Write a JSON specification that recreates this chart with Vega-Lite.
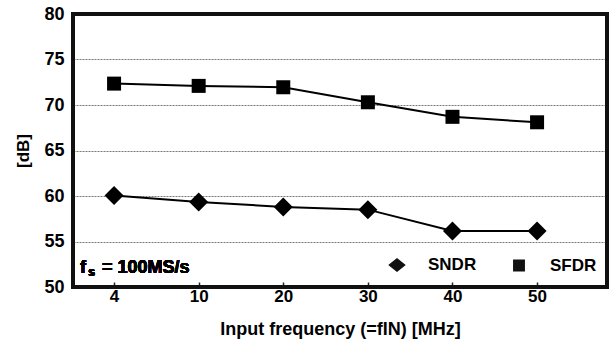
{
  "$schema": "https://vega.github.io/schema/vega-lite/v6.json",
  "autosize": "none",
  "width": 534,
  "height": 273,
  "padding": {"left": 73, "top": 14, "right": 6, "bottom": 61},
  "background": "white",
  "view": {"stroke": "#111111", "strokeWidth": 4},
  "data": {"values": [
    {"freq": "4", "series": "SNDR", "dB": 60.05},
    {"freq": "10", "series": "SNDR", "dB": 59.35},
    {"freq": "20", "series": "SNDR", "dB": 58.8},
    {"freq": "30", "series": "SNDR", "dB": 58.5},
    {"freq": "40", "series": "SNDR", "dB": 56.15},
    {"freq": "50", "series": "SNDR", "dB": 56.15},
    {"freq": "4", "series": "SFDR", "dB": 72.35},
    {"freq": "10", "series": "SFDR", "dB": 72.1},
    {"freq": "20", "series": "SFDR", "dB": 71.95},
    {"freq": "30", "series": "SFDR", "dB": 70.3},
    {"freq": "40", "series": "SFDR", "dB": 68.7},
    {"freq": "50", "series": "SFDR", "dB": 68.1}
  ]},
  "encoding": {
    "x": {"field": "freq", "type": "ordinal", "sort": ["4", "10", "20", "30", "40", "50"],
      "scale": {"type": "point", "padding": 0.656, "align": 0.37},
      "axis": {"title": "Input frequency (=fIN) [MHz]", "labelAngle": 0, "labelFont": "Liberation Sans", "titleFont": "Liberation Sans", "labelFontWeight": "bold", "titleFontWeight": "bold", "labelColor": "black", "titleColor": "black", "labelFontSize": 17, "titleFontSize": 18, "domain": false, "ticks": true, "tickSize": -5, "tickColor": "#222222", "tickWidth": 1.5, "labelPadding": 6, "titlePadding": 16, "grid": false}},
    "y": {"field": "dB", "type": "quantitative",
      "scale": {"domain": [50, 80], "nice": false, "zero": false},
      "axis": {"title": "[dB]", "values": [50, 55, 60, 65, 70, 75, 80], "labelFont": "Liberation Sans", "titleFont": "Liberation Sans", "labelFontWeight": "bold", "titleFontWeight": "bold", "labelColor": "black", "titleColor": "black", "labelFontSize": 18, "titleFontSize": 17, "domain": false, "ticks": false, "labelPadding": 9, "titlePadding": 11, "grid": true, "gridColor": "#777777", "gridDash": [2, 1], "gridWidth": 1}}
  },
  "layer": [
    {"mark": {"type": "rect", "fill": "transparent", "stroke": "#111111", "strokeWidth": 4},
      "encoding": {"x": null, "y": {"datum": 50}, "y2": {"datum": 80}}},
    {"mark": {"type": "line", "color": "black", "strokeWidth": 2}, "encoding": {"detail": {"field": "series"}}},
    {"transform": [{"filter": "datum.series === 'SNDR'"}],
      "mark": {"type": "point", "filled": true, "opacity": 1, "color": "black", "size": 361, "shape": "diamond"}},
    {"transform": [{"filter": "datum.series === 'SFDR'"}],
      "mark": {"type": "point", "filled": true, "opacity": 1, "color": "black", "size": 196, "shape": "square"}},
    {"transform": [{"filter": "false"}],
      "mark": {"type": "point", "filled": true, "opacity": 1, "color": "#111111", "size": 1225},
      "encoding": {
        "shape": {"field": "series", "type": "nominal",
          "scale": {"domain": ["SNDR", "SFDR"], "range": ["M-1,0H1M-0.5,0L0,-0.4L0.5,0L0,0.4Z", "M-1,0H1M-0.34,-0.34H0.34V0.34H-0.34Z"]},
          "legend": {"title": null, "orient": "none", "legendX": 305, "legendY": 232, "direction": "horizontal", "columns": 2, "padding": 0,
            "symbolSize": 1225, "symbolFillColor": "#111111", "symbolStrokeColor": "#111111", "symbolStrokeWidth": 3, "symbolOpacity": 1,
            "labelFontSize": 17, "labelFont": "Liberation Sans", "labelFontWeight": "bold", "labelColor": "black", "labelOffset": 12, "columnPadding": 18,
            "encode": {"symbols": {"update": {"stroke": {"value": "#111111"}, "strokeWidth": {"value": 3}, "fill": {"value": "#111111"}, "opacity": {"value": 1}}}}}}}},
    {"mark": {"type": "text", "text": "f", "align": "left", "baseline": "alphabetic", "fontSize": 18, "fontWeight": "bold", "font": "Liberation Sans", "color": "black", "dx": -34, "dy": -14},
      "encoding": {"x": {"datum": "4"}, "y": {"datum": 50}}},
    {"mark": {"type": "text", "text": "s", "align": "left", "baseline": "alphabetic", "fontSize": 13, "fontWeight": "bold", "font": "Liberation Sans", "color": "black", "dx": -26, "dy": -11},
      "encoding": {"x": {"datum": "4"}, "y": {"datum": 50}}},
    {"mark": {"type": "text", "text": "= 100MS/s", "align": "left", "baseline": "alphabetic", "fontSize": 18, "fontWeight": "bold", "font": "Liberation Sans", "color": "black", "dx": -12, "dy": -14},
      "encoding": {"x": {"datum": "4"}, "y": {"datum": 50}}}
  ]
}
